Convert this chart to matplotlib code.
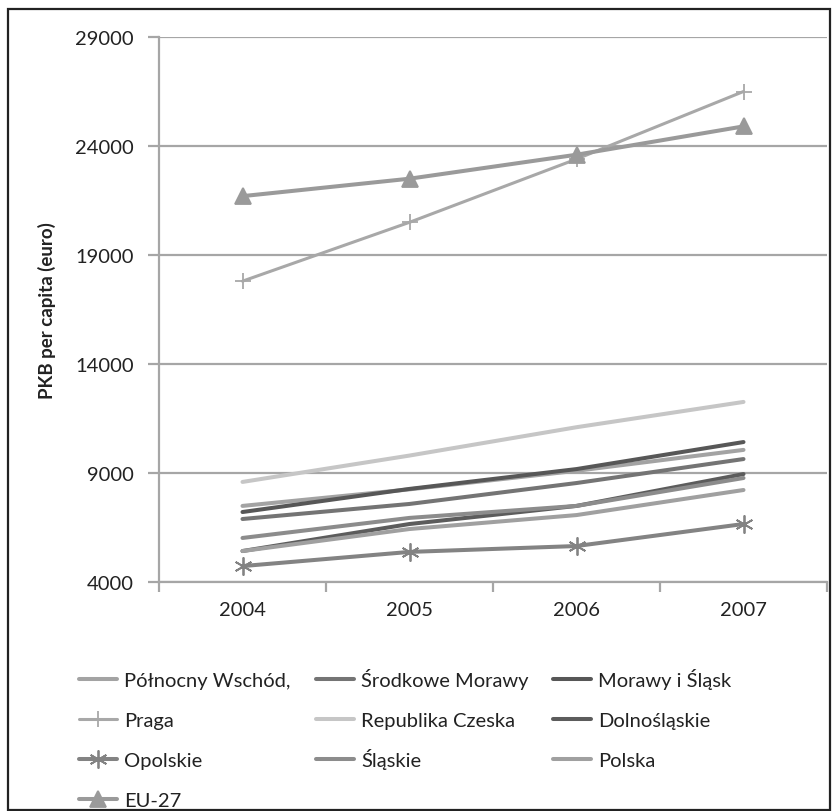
import matplotlib.pyplot as plt
from matplotlib.patches import Rectangle
from matplotlib.lines import Line2D

# lata i wartosci PKB per capita (euro)
lata = ["2004", "2005", "2006", "2007"]

polnocny_wschod = [7490, 8250, 9100, 10060]
srodkowe_morawy = [6890, 7580, 8540, 9640]
morawy_slask = [7210, 8270, 9180, 10420]
praga = [17800, 20500, 23400, 26500]
republika_czeska = [8590, 9800, 11100, 12260]
dolnoslaskie = [5420, 6660, 7490, 8950]
opolskie = [4730, 5380, 5650, 6660]
slaskie = [6020, 6940, 7490, 8770]
polska = [5420, 6430, 7070, 8220]
eu27 = [21700, 22500, 23600, 24900]

plt.rcParams['font.family'] = ['Lato', 'DejaVu Sans']

W, H = 832, 812
fig = plt.figure(figsize=(W / 100, H / 100), dpi=100)
ax = fig.add_axes([159 / W, 1 - 583 / H, 668 / W, 545 / H])

# ramka wokol calego wykresu
fig.patches.append(Rectangle((8 / W, 1 / H), 822 / W, 801 / H, transform=fig.transFigure,
                             fill=False, edgecolor="#222222", linewidth=1.6))

x = range(len(lata))
serie = [
    ("Północny Wschód,", polnocny_wschod, "#a3a3a3", None, 2.9, 0),
    ("Środkowe Morawy", srodkowe_morawy, "#747474", None, 2.9, 0),
    ("Morawy i Śląsk", morawy_slask, "#575757", None, 2.9, 0),
    ("Praga", praga, "#a8a8a8", "+", 2.2, 11),
    ("Republika Czeska", republika_czeska, "#c6c6c6", None, 2.9, 0),
    ("Dolnośląskie", dolnoslaskie, "#5c5c5c", None, 2.9, 0),
    ("Opolskie", opolskie, "#838383", (6, 2, 0), 2.9, 13),
    ("Śląskie", slaskie, "#8c8c8c", None, 2.9, 0),
    ("Polska", polska, "#a0a0a0", None, 2.9, 0),
    ("EU-27", eu27, "#9a9a9a", "^", 2.9, 11),
]

for nazwa, wartosci, kolor, marker, lw, ms in serie:
    ax.plot(x, wartosci, color=kolor, linewidth=lw, marker=marker,
            markersize=ms, markeredgewidth=1.3, label=nazwa,
            solid_capstyle="round")

ax.set_xlim(-0.5, 3.5)
ax.set_ylim(4000, 29000)
ax.set_yticks([4000, 9000, 14000, 19000, 24000, 29000])
ax.yaxis.grid(True, color="#a6a6a6", linewidth=1.6)
ax.set_axisbelow(True)

ax.set_xticks(list(x))
ax.set_xticklabels(lata)
ax.set_xticks([-0.5, 0.5, 1.5, 2.5, 3.5], minor=True)
ax.tick_params(axis="x", which="major", length=0, pad=14, labelsize=14.5, labelcolor="#222222")
ax.tick_params(axis="x", which="minor", length=7, width=1.6, color="#a6a6a6")
ax.tick_params(axis="y", length=8, width=1.6, color="#a6a6a6", pad=10, labelsize=14.5, labelcolor="#222222")

for s in ["top", "right"]:
    ax.spines[s].set_visible(False)
for s in ["left", "bottom"]:
    ax.spines[s].set_color("#a6a6a6")
    ax.spines[s].set_linewidth(1.6)

ax.set_ylabel("PKB per capita (euro)", fontsize=13.5, fontweight="bold", color="#222222", labelpad=14)

# legenda rysowana recznie, wierszami po 3 pozycje
kol_x = [130, 367, 604]
wiersz_y = [680, 720, 760, 800]
for i, (nazwa, wartosci, kolor, marker, lw, ms) in enumerate(serie):
    tx = kol_x[i % 3]
    ty = 1 - wiersz_y[i // 3] / H
    fig.add_artist(Line2D([(tx - 51) / W, (tx - 13) / W], [ty, ty], color=kolor, linewidth=lw,
                          solid_capstyle="round"))
    if marker is not None:
        fig.add_artist(Line2D([(tx - 32) / W], [ty], color=kolor, marker=marker,
                              markersize=ms, markeredgewidth=1.3))
    fig.text((tx - 6) / W, ty - 7 / H, nazwa, fontsize=14.5, color="#222222", va="baseline", ha="left")

fig.savefig("out.png", dpi=100)
